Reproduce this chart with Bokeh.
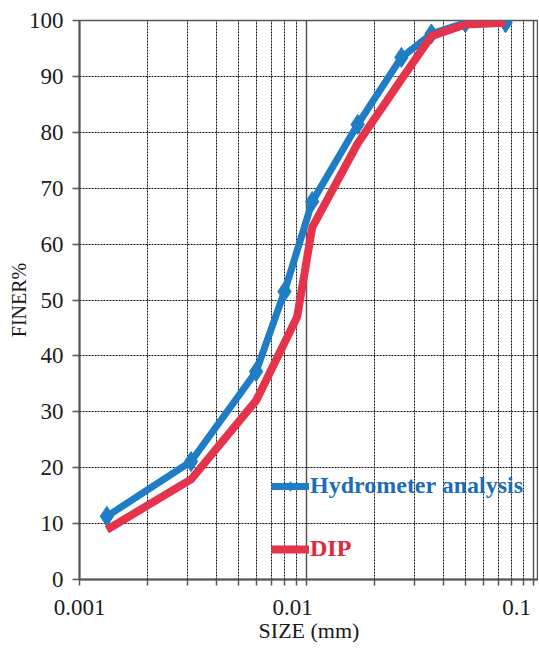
from bokeh.plotting import figure
from bokeh.models import FixedTicker, CustomJSTickFormatter, Legend, LegendItem, Range1d
from bokeh.embed import file_html
from bokeh.resources import INLINE

# ---- data ----
HYD_SIZE = [0.00132, 0.0031, 0.0060, 0.0080, 0.0106, 0.0168, 0.0262, 0.0355, 0.0501, 0.0753]
HYD_FINER = [11.3, 21.1, 37.2, 51.5, 67.6, 81.4, 93.4, 97.6, 99.6, 99.6]
DIP_SIZE = [0.00132, 0.0031, 0.0060, 0.0091, 0.0106, 0.0168, 0.0262, 0.0355, 0.0501, 0.0753]
DIP_FINER = [8.9, 17.9, 32.0, 47.0, 63.0, 78.0, 89.5, 97.2, 99.3, 99.6]
X_TICKS = [0.001, 0.01, 0.1]
X_TICK_LABELS = ["0.001", "0.01", "0.1"]
Y_TICKS = list(range(0, 101, 10))
SERIES_NAMES = ["Hydrometer analysis", "DIP"]

BLUE = "#1f7dc6"
RED = "#e5334b"
FONT = "Liberation Serif"
PX_PER_DECADE = 227.0
LABEL_SHIFT_PX = [0, -14, -17]

p = figure(width=538, height=654, x_axis_type="log",
           x_range=Range1d(0.001, 0.1052), y_range=Range1d(0, 100),
           output_backend="svg", toolbar_location=None,
           min_border_left=79, min_border_right=0, min_border_top=20, min_border_bottom=75)
p.background_fill_color = "white"
p.border_fill_color = "white"
p.outline_line_color = "#555555"
p.outline_line_width = 1.5

# tick positions
minor_all = []
for d in X_TICKS[:-1]:
    minor_all += [k * d for k in range(1, 10)]
minor_all.append(X_TICKS[-1])
minor_grid = [k * d for d in X_TICKS[:-1] for k in range(2, 10)]
label_pos = [t * 10 ** (s / PX_PER_DECADE) for t, s in zip(X_TICKS, LABEL_SHIFT_PX)]

# x axis
xa = p.xaxis[0]
xa.ticker = FixedTicker(ticks=label_pos, minor_ticks=minor_all)
xa.formatter = CustomJSTickFormatter(args=dict(labels=X_TICK_LABELS),
                                     code="return labels[Math.round(Math.log10(tick)) + 3];")
xa.major_tick_line_color = None
xa.major_tick_out = 6
xa.major_tick_in = 0
xa.minor_tick_out = 6
xa.minor_tick_in = 0
xa.minor_tick_line_color = "#555555"
xa.minor_tick_line_width = 1.5
xa.axis_line_color = "#555555"
xa.axis_line_width = 2
xa.major_label_text_font = FONT
xa.major_label_text_font_size = "23px"
xa.major_label_text_color = "#1a1a1a"
xa.major_label_standoff = 14
xa.axis_label = "SIZE (mm)"
xa.axis_label_text_font = FONT
xa.axis_label_text_font_size = "22px"
xa.axis_label_text_font_style = "normal"
xa.axis_label_text_color = "#1a1a1a"
xa.axis_label_standoff = 0

# y axis
ya = p.yaxis[0]
ya.ticker = FixedTicker(ticks=Y_TICKS)
ya.major_tick_out = 7
ya.major_tick_in = 0
ya.major_tick_line_color = "#555555"
ya.major_tick_line_width = 1.5
ya.minor_tick_line_color = None
ya.axis_line_color = "#555555"
ya.axis_line_width = 2
ya.major_label_text_font = FONT
ya.major_label_text_font_size = "23px"
ya.major_label_text_color = "#1a1a1a"
ya.major_label_standoff = 9
ya.axis_label = "FINER%"
ya.axis_label_text_font = FONT
ya.axis_label_text_font_size = "20px"
ya.axis_label_text_font_style = "normal"
ya.axis_label_text_color = "#1a1a1a"
ya.axis_label_standoff = -4

# grids
p.xgrid.ticker = FixedTicker(ticks=X_TICKS[1:], minor_ticks=minor_grid)
p.xgrid.grid_line_color = "#555555"
p.xgrid.grid_line_width = 1.5
p.xgrid.minor_grid_line_color = "#111111"
p.xgrid.minor_grid_line_dash = "2 1"
p.xgrid.minor_grid_line_width = 1
p.ygrid.ticker = FixedTicker(ticks=Y_TICKS)
p.ygrid.grid_line_color = "#111111"
p.ygrid.grid_line_dash = "2 1"
p.ygrid.grid_line_width = 1

# series
hl = p.line(HYD_SIZE, HYD_FINER, line_color=BLUE, line_width=7, line_join="round")
hs = p.scatter(HYD_SIZE, HYD_FINER, marker="diamond", size=20, fill_color=BLUE, line_color=BLUE)
dl = p.line(DIP_SIZE, DIP_FINER, line_color=RED, line_width=8, line_join="round")

leg1 = Legend(items=[LegendItem(label=SERIES_NAMES[0], renderers=[hl, hs])],
              location=(192, 80))
leg2 = Legend(items=[LegendItem(label=SERIES_NAMES[1], renderers=[dl])],
              location=(192, 17))
for lg, col in ((leg1, "#1b6db5"), (leg2, "#e0283d")):
    lg.label_text_font = FONT
    lg.label_text_font_size = "24px"
    lg.label_text_font_style = "bold"
    lg.label_text_color = col
    lg.glyph_width = 38
    lg.glyph_height = 24
    lg.label_height = 24
    lg.label_standoff = 1
    lg.padding = 0
    lg.margin = 0
    lg.spacing = 0
    lg.background_fill_alpha = 0
    lg.border_line_color = None
    p.add_layout(lg, "center")

open("out.html", "w").write(file_html(p, INLINE))
